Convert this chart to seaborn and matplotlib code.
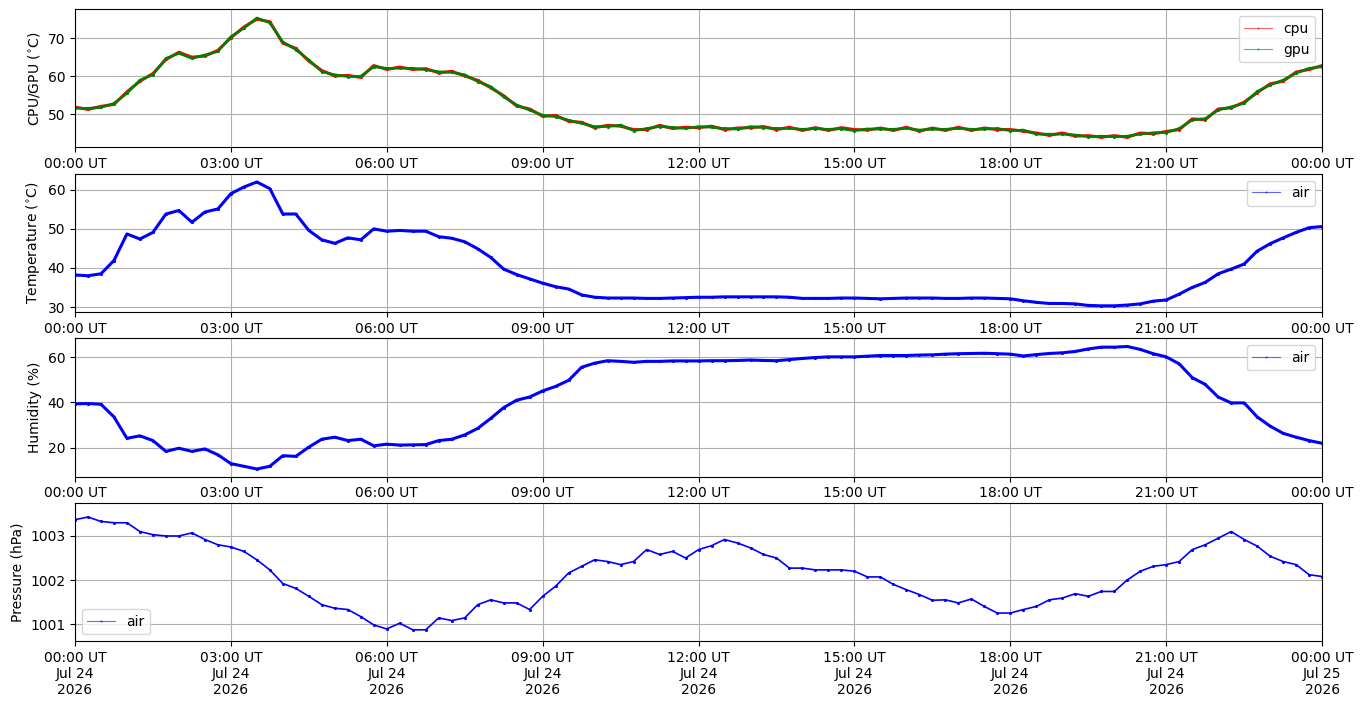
import pandas as pd
import matplotlib
matplotlib.use("Agg")
import matplotlib.pyplot as plt
import matplotlib.dates as mdates
import seaborn as sns

# samples every 15 minutes, 2026-07-24 00:00 UT .. 2026-07-25 00:00 UT
gpu = [51.6, 51.6, 51.8, 52.9, 55.5, 59.0, 60.4, 64.7, 66.0, 64.7, 65.6, 66.5,
       70.4, 72.6, 75.3, 74.0, 69.0, 67.0, 64.3, 61.2, 60.4, 59.9, 60.0, 62.5,
       62.1, 62.1, 62.1, 61.7, 61.2, 61.0, 60.4, 58.6, 57.3, 54.6, 52.5, 51.1,
       49.8, 49.4, 48.5, 47.6, 46.8, 46.8, 47.2, 45.7, 46.3, 46.8, 46.6, 46.3,
       46.8, 46.6, 46.3, 46.1, 46.8, 46.5, 46.3, 46.3, 46.1, 46.2, 46.1, 46.2,
       45.7, 46.2, 46.1, 46.1, 46.3, 45.9, 46.1, 46.1, 46.3, 46.1, 46.1, 46.3,
       45.7, 45.9, 44.8, 44.8, 44.8, 44.6, 44.1, 44.3, 44.1, 44.3, 44.8, 45.2,
       45.2, 46.3, 48.5, 48.9, 51.1, 52.0, 52.9, 56.0, 57.7, 59.0, 60.8, 62.1,
       62.5]
cpu = [51.9, 51.3, 52.1, 52.6, 55.9, 58.7, 60.7, 64.4, 66.3, 65.0, 65.3, 66.8,
       70.1, 72.9, 75.0, 74.3, 68.7, 67.3, 64.0, 61.5, 60.1, 60.2, 59.7, 62.8,
       61.8, 62.4, 61.8, 62.0, 60.9, 61.3, 60.1, 58.9, 57.0, 54.9, 52.2, 51.4,
       49.5, 49.7, 48.2, 47.9, 46.5, 47.1, 46.9, 46.0, 46.0, 47.1, 46.3, 46.6,
       46.5, 46.9, 46.0, 46.4, 46.5, 46.8, 46.0, 46.6, 45.8, 46.5, 45.8, 46.5,
       46.0, 45.9, 46.4, 45.8, 46.6, 45.6, 46.4, 45.8, 46.6, 45.8, 46.4, 46.0,
       46.0, 45.6, 45.1, 44.5, 45.1, 44.3, 44.4, 44.0, 44.4, 44.0, 45.1, 44.9,
       45.5, 46.0, 48.8, 48.6, 51.4, 51.7, 53.2, 55.7, 58.0, 58.7, 61.1, 61.8,
       62.8]
temperature = [38.2, 38.0, 38.5, 41.9, 48.7, 47.4, 49.1, 53.8, 54.7, 51.7, 54.3, 55.1,
               59.0, 60.7, 62.0, 60.3, 53.8, 53.8, 49.6, 47.2, 46.3, 47.7, 47.2, 50.0,
               49.4, 49.6, 49.4, 49.4, 48.0, 47.6, 46.7, 44.9, 42.7, 39.7, 38.3, 37.2,
               36.1, 35.2, 34.6, 33.1, 32.5, 32.3, 32.3, 32.3, 32.2, 32.2, 32.3, 32.4,
               32.5, 32.5, 32.6, 32.6, 32.6, 32.6, 32.6, 32.5, 32.2, 32.2, 32.2, 32.3,
               32.3, 32.2, 32.1, 32.2, 32.3, 32.3, 32.3, 32.2, 32.2, 32.3, 32.3, 32.2,
               32.1, 31.6, 31.2, 30.9, 30.9, 30.8, 30.4, 30.3, 30.3, 30.5, 30.8, 31.5,
               31.8, 33.3, 35.0, 36.3, 38.5, 39.7, 41.0, 44.3, 46.2, 47.7, 49.1, 50.3,
               50.6]
humidity = [39.4, 39.5, 39.2, 33.6, 24.1, 25.2, 23.1, 18.3, 19.7, 18.3, 19.4, 16.8,
            12.9, 11.7, 10.5, 11.7, 16.4, 16.1, 20.2, 23.7, 24.6, 23.1, 23.7, 20.8,
            21.5, 21.1, 21.2, 21.3, 23.1, 23.7, 25.6, 28.5, 32.9, 37.7, 41.0, 42.4,
            45.1, 47.1, 49.8, 55.6, 57.4, 58.5, 58.2, 57.8, 58.2, 58.2, 58.4, 58.4,
            58.4, 58.5, 58.5, 58.6, 58.8, 58.6, 58.5, 59.0, 59.5, 59.9, 60.2, 60.2,
            60.2, 60.5, 60.8, 60.8, 60.8, 61.0, 61.1, 61.4, 61.6, 61.7, 61.8, 61.6,
            61.4, 60.6, 61.2, 61.7, 62.0, 62.6, 63.7, 64.5, 64.5, 64.8, 63.5, 61.6,
            60.2, 57.1, 51.0, 48.0, 42.4, 39.8, 39.8, 33.6, 29.5, 26.3, 24.6, 23.1,
            21.9]
pressure = [1003.37, 1003.43, 1003.33, 1003.30, 1003.30, 1003.10, 1003.03, 1003.00,
            1003.00, 1003.07, 1002.92, 1002.80, 1002.75, 1002.65, 1002.46, 1002.23,
            1001.92, 1001.81, 1001.63, 1001.44, 1001.36, 1001.33, 1001.17, 1000.98,
            1000.89, 1001.02, 1000.87, 1000.87, 1001.14, 1001.08, 1001.14, 1001.44,
            1001.55, 1001.48, 1001.48, 1001.33, 1001.63, 1001.86, 1002.16, 1002.31,
            1002.46, 1002.42, 1002.35, 1002.42, 1002.69, 1002.58, 1002.65, 1002.50,
            1002.69, 1002.78, 1002.92, 1002.84, 1002.73, 1002.58, 1002.50, 1002.27,
            1002.27, 1002.23, 1002.23, 1002.23, 1002.20, 1002.07, 1002.07, 1001.90,
            1001.78, 1001.67, 1001.54, 1001.55, 1001.48, 1001.57, 1001.40, 1001.25,
            1001.25, 1001.33, 1001.40, 1001.55, 1001.59, 1001.69, 1001.63, 1001.74,
            1001.74, 1002.00, 1002.20, 1002.31, 1002.35, 1002.42, 1002.69, 1002.80,
            1002.95, 1003.10, 1002.92, 1002.77, 1002.54, 1002.42, 1002.35, 1002.12,
            1002.08]

times = pd.date_range("2026-07-24 00:00", periods=len(gpu), freq="15min")
df = pd.DataFrame({"time": times, "cpu": cpu, "gpu": gpu, "temperature": temperature,
                   "humidity": humidity, "pressure": pressure})

fig, axes = plt.subplots(4, 1, figsize=(13.63, 7.07), dpi=100)
fig.subplots_adjust(left=0.055, right=0.97, top=0.987, bottom=0.093, hspace=0.19)

# the logger writes many dense samples, so the trace reads as a thick dotted band
band_kw = dict(marker=".", markersize=4.5, linewidth=2.2, markeredgewidth=0)

ax = axes[0]
sns.lineplot(data=df, x="time", y="cpu", ax=ax, color="red", label="cpu", **band_kw)
sns.lineplot(data=df, x="time", y="gpu", ax=ax, color="green", label="gpu",
             marker=".", markersize=4.5, linewidth=1.8, markeredgewidth=0)
ax.set_ylabel("CPU/GPU ($^{\\circ}$C)")
ax.set_ylim(41.3, 77.6)
ax.legend(loc="upper right")

ax = axes[1]
sns.lineplot(data=df, x="time", y="temperature", ax=ax, color="blue", label="air", **band_kw)
ax.set_ylabel("Temperature ($^{\\circ}$C)")
ax.set_ylim(28.7, 64.1)
ax.legend(loc="upper right")

ax = axes[2]
sns.lineplot(data=df, x="time", y="humidity", ax=ax, color="blue", label="air", **band_kw)
ax.set_ylabel("Humidity (%)")
ax.set_ylim(7.1, 68.4)
ax.legend(loc="upper right")

ax = axes[3]
sns.lineplot(data=df, x="time", y="pressure", ax=ax, color="blue", label="air",
             marker=".", markersize=4.5, linewidth=1.2, markeredgewidth=0)
ax.set_ylabel("Pressure (hPa)")
ax.set_ylim(1000.61, 1003.75)
ax.legend(loc="lower left")

for i, ax in enumerate(axes):
    ax.set_xlim(times[0], times[-1])
    ax.xaxis.set_major_locator(mdates.HourLocator(byhour=range(0, 24, 3)))
    if i < 3:
        ax.xaxis.set_major_formatter(mdates.DateFormatter("%H:%M UT"))
    else:
        ax.xaxis.set_major_formatter(mdates.DateFormatter("%H:%M UT\n%b %d\n%Y"))
    ax.set_xlabel("")
    ax.grid(True)
    for lh in ax.get_legend().get_lines():
        lh.set_alpha(0.6)
        lh.set_linewidth(0.8)
        lh.set_markersize(3)

fig.savefig("out.png", dpi=100)
